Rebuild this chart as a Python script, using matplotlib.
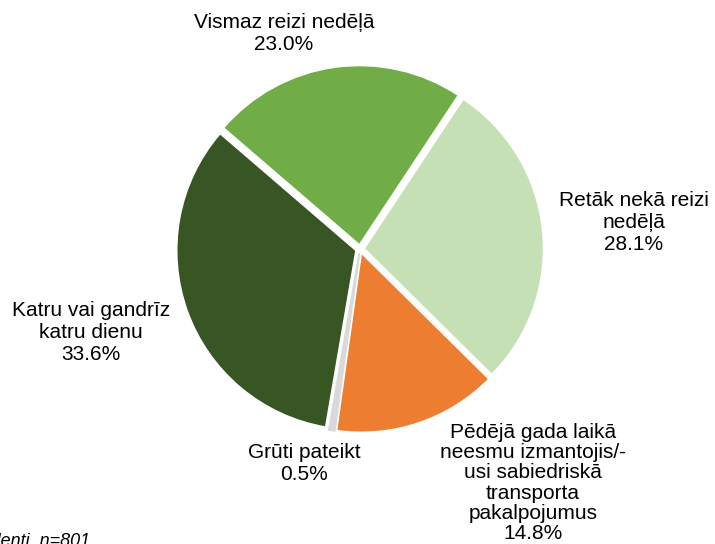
import matplotlib
matplotlib.use("Agg")
import matplotlib.pyplot as plt

categories = ["Vismaz reizi nedēļā", "Retāk nekā reizi\nnedēļā",
              "Pēdējā gada laikā\nneesmu izmantojis/-\nusi sabiedriskā\ntransporta\npakalpojumus",
              "Grūti pateikt", "Katru vai gandrīz\nkatru dienu"]
values = [23.0, 28.1, 14.8, 0.5, 33.6]
colors = ["#70AD47", "#C5E0B4", "#ED7D31", "#D9D9D9", "#375623"]
label_px = [(284, 33), (634, 222), (533, 483), (304, 464), (91, 332)]
label_spacing = [1.2, 1.2, 1.08, 1.2, 1.2]
footnote = "Visi respondenti, n=801"

plt.rcParams['font.family'] = ['Liberation Sans', 'DejaVu Sans']
W, H = 715, 544
fig = plt.figure(figsize=(W / 100, H / 100), dpi=100)
cx, cy, S = 360, 249, 400
ax = fig.add_axes([(cx - S / 2) / W, 1 - (cy + S / 2) / H, S / W, S / H])
wedges, _ = ax.pie(values, colors=colors, startangle=139.3, counterclock=False,
                   explode=[0.024] * len(values), radius=0.985,
                   wedgeprops=dict(edgecolor="white", linewidth=1.0))
# small slice: outline in its own colour so it stays visible
for w, v, c in zip(wedges, values, colors):
    if v < 1:
        w.set_edgecolor(c)
        w.set_linewidth(1.5)
ax.set_xlim(-1.1, 1.1)
ax.set_ylim(-1.1, 1.1)
ax.set_aspect("equal")
ax.axis("off")

for cat, v, (px, py), ls in zip(categories, values, label_px, label_spacing):
    fig.text(px / W, 1 - py / H, f"{cat}\n{v:.1f}%", ha="center", va="center",
             fontsize=15, linespacing=ls, color="#000000")

fig.text(90 / W, 1 - 533 / H, footnote, ha="right", va="top", fontsize=13,
         style="italic")
fig.savefig("out.png", dpi=100)
